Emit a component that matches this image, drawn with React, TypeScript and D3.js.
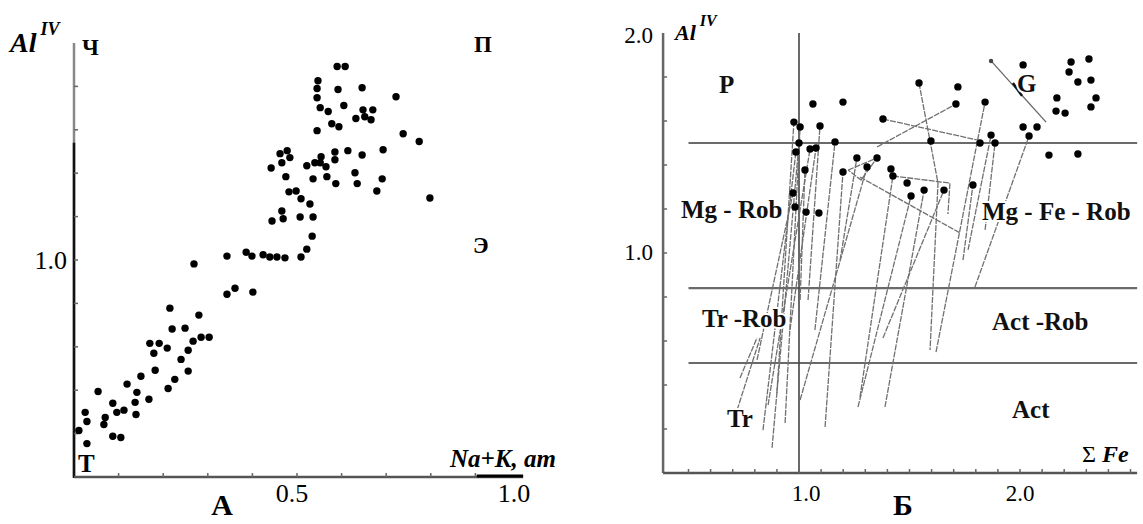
import * as d3 from "d3";

const serif = "'Liberation Serif', 'Times New Roman', serif";

// Panel А: Na+K (at.) vs Al IV
const naK = [
  0.59, 0.608, 0.547, 0.545, 0.545, 0.592, 0.646, 0.722, 0.552, 0.57, 0.605, 0.648, 0.67, 0.632, 0.652, 0.666,
  0.578, 0.594, 0.545, 0.738, 0.774, 0.462, 0.478, 0.484, 0.466, 0.442, 0.475, 0.554, 0.585, 0.614, 0.646, 0.693,
  0.585, 0.54, 0.552, 0.565, 0.522, 0.536, 0.567, 0.587, 0.63, 0.635, 0.691, 0.679, 0.798, 0.482, 0.498, 0.509,
  0.529, 0.466, 0.444, 0.469, 0.507, 0.536, 0.534, 0.522, 0.343, 0.386, 0.399, 0.424, 0.439, 0.455, 0.473, 0.509,
  0.269, 0.343, 0.361, 0.401, 0.215, 0.28, 0.22, 0.249, 0.17, 0.191, 0.209, 0.179, 0.267, 0.285, 0.303, 0.256,
  0.24, 0.182, 0.256, 0.226, 0.211, 0.15, 0.119, 0.141, 0.054, 0.087, 0.096, 0.112, 0.137, 0.139, 0.168, 0.07,
  0.067, 0.025, 0.029, 0.011, 0.029, 0.087, 0.105
];
const alA = [
  1.446, 1.446, 1.413, 1.395, 1.374, 1.393, 1.397, 1.376, 1.351, 1.342, 1.356, 1.346, 1.346, 1.326, 1.33, 1.323,
  1.314, 1.307, 1.298, 1.291, 1.273, 1.245, 1.252, 1.236, 1.224, 1.212, 1.192, 1.238, 1.249, 1.252, 1.242, 1.254,
  1.231, 1.224, 1.224, 1.215, 1.217, 1.187, 1.192, 1.176, 1.201, 1.176, 1.187, 1.159, 1.143, 1.157, 1.159, 1.141,
  1.129, 1.113, 1.09, 1.095, 1.099, 1.099, 1.055, 1.025, 1.009, 1.018, 1.009, 1.012, 1.007, 1.007, 1.005, 1.007,
  0.991, 0.921, 0.935, 0.926, 0.889, 0.873, 0.841, 0.843, 0.808, 0.808, 0.797, 0.785, 0.813, 0.822, 0.822, 0.792,
  0.771, 0.746, 0.744, 0.725, 0.704, 0.732, 0.714, 0.695, 0.697, 0.67, 0.649, 0.654, 0.672, 0.644, 0.679, 0.637,
  0.621, 0.649, 0.628, 0.607, 0.577, 0.594, 0.591
];

// Panel Б: ΣFe vs Al IV
const sumFe = [
  1.063, 1.199, 0.977, 1.005, 1.095, 1.0, 1.163, 0.986, 1.05, 1.077, 1.262, 1.353, 1.027, 1.199, 1.308, 0.973,
  0.982, 1.032, 1.09, 2.014, 2.231, 2.312, 2.222, 2.262, 2.321, 2.167, 2.344, 2.163, 2.204, 2.321, 2.014, 2.077,
  2.041, 2.131, 2.262, 1.543, 1.719, 1.71, 1.842, 1.38, 1.597, 1.869, 1.819, 1.887, 1.416, 1.425, 1.489, 1.507,
  1.566, 1.656, 1.787
];
const alB = [
  1.677, 1.686, 1.595, 1.573, 1.577, 1.5, 1.505, 1.459, 1.473, 1.477, 1.432, 1.432, 1.377, 1.368, 1.391, 1.273,
  1.209, 1.186, 1.182, 1.855, 1.868, 1.882, 1.823, 1.777, 1.786, 1.705, 1.705, 1.645, 1.636, 1.664, 1.573, 1.573,
  1.532, 1.445, 1.45, 1.773, 1.755, 1.677, 1.686, 1.609, 1.509, 1.536, 1.5, 1.5, 1.382, 1.35, 1.318, 1.259,
  1.286, 1.286, 1.309
];

// tie lines (ΣFe, Al IV)
const tieLines: [number, number][][] = [
  [[0.71, 0.255], [0.824, 0.614]],
  [[0.733, 0.432], [0.81, 0.614]],
  [[0.837, 0.195], [0.986, 1.459]],
  [[0.878, 0.114], [1.0, 1.5]],
  [[0.9, 0.364], [0.977, 1.595]],
  [[0.937, 0.227], [1.005, 1.573]],
  [[0.86, 0.309], [1.05, 1.473]],
  [[0.81, 0.514], [0.973, 1.273]],
  [[0.959, 0.65], [1.077, 1.477]],
  [[1.005, 0.786], [1.027, 1.377]],
  [[1.041, 0.786], [1.095, 1.577]],
  [[1.118, 0.209], [1.199, 1.368]],
  [[1.005, 0.332], [1.308, 1.391]],
  [[1.072, 0.65], [1.163, 1.505]],
  [[1.186, 0.968], [1.262, 1.432]],
  [[1.38, 0.614], [1.656, 1.286]],
  [[1.276, 0.345], [1.425, 1.35]],
  [[1.267, 0.3], [1.507, 1.259]],
  [[1.389, 0.3], [1.566, 1.286]],
  [[1.543, 1.773], [1.629, 1.318], [1.593, 0.559]],
  [[1.62, 0.55], [1.842, 1.686]],
  [[1.765, 1.014], [1.869, 1.536]],
  [[1.796, 0.845], [2.041, 1.532]],
  [[1.742, 0.968], [1.787, 1.309]],
  [[1.842, 1.105], [1.887, 1.5]],
  [[1.38, 1.609], [1.805, 1.514]],
  [[1.353, 1.482], [1.71, 1.677]],
  [[1.276, 1.345], [1.729, 1.091]],
  [[1.425, 1.35], [1.683, 1.318], [1.674, 1.177]],
  [[1.222, 1.377], [1.353, 1.432], [1.281, 1.332], [1.222, 1.377]]
];
const gLine: [number, number][] = [[1.869, 1.873], [2.118, 1.595]];
const gMark: [number, number][] = [[1.968, 1.773], [2.009, 1.714]];

const fieldBounds = [1.5, 0.84, 0.5];
const feDivide = 1.0;

const regionLabels = [
  { text: "P", x: 719, y: 93 },
  { text: "G", x: 1017, y: 92 },
  { text: "Mg - Rob", x: 681, y: 218 },
  { text: "Mg - Fe - Rob", x: 982, y: 220 },
  { text: "Tr -Rob", x: 702, y: 327 },
  { text: "Act -Rob", x: 992, y: 330 },
  { text: "Tr", x: 727, y: 427 },
  { text: "Act", x: 1012, y: 418 }
];

export default function App() {
  const xA = d3.scaleLinear().domain([0, 1]).range([74, 520]);
  const yA = d3.scaleLinear().domain([0.5, 1.5]).range([477, 43]);
  const xB = d3.scaleLinear().domain([1, 2]).range([799, 1020]);
  const yB = d3.scaleLinear().domain([0, 2]).range([473, 33]);

  const lineB = d3
    .line<[number, number]>()
    .x((d) => xB(d[0]))
    .y((d) => yB(d[1]));

  const xTicksA = d3.range(1, 10).map((i) => i / 10);
  const yTicksA = d3.range(6, 15).map((i) => i / 10);
  const xTicksB = d3.range(5, 26).map((i) => i / 10);
  const yTicksB = d3.range(1, 10).map((i) => i / 5);

  const xB0 = 0.385;
  const xB1 = 2.53;

  return (
    <div style={{ position: "absolute", left: 0, top: 0 }}>
      <svg width={1143} height={524} style={{ display: "block", background: "#fff" }} fontFamily={serif}>
        {/* ---------- panel А ---------- */}
        <line x1={xA(0)} x2={xA(0)} y1={yA(1.5)} y2={yA(0.5)} stroke="#888" strokeWidth={2.5} />
        <line x1={xA(0)} x2={xA(0)} y1={yA(1.27)} y2={yA(0.5) + 1} stroke="#111" strokeWidth={2.5} />
        <line x1={xA(0)} x2={xA(1.007)} y1={yA(0.5)} y2={yA(0.5)} stroke="#555" strokeWidth={2.5} />
        <line x1={xA(0.903)} x2={xA(1.007)} y1={yA(0.5) - 1} y2={yA(0.5) - 1} stroke="#000" strokeWidth={3} />
        {yTicksA.map((t) => (
          <line key={t} x1={xA(0)} x2={xA(0) + 4} y1={yA(t)} y2={yA(t)} stroke="#666" strokeWidth={1.5} />
        ))}
        {xTicksA.map((t) => (
          <line key={t} x1={xA(t)} x2={xA(t)} y1={yA(0.5)} y2={yA(0.5) - 4} stroke="#666" strokeWidth={1.5} />
        ))}
        {naK.map((x, i) => (
          <circle key={i} cx={xA(x)} cy={yA(alA[i])} r={3.7} fill="#000" />
        ))}
        <text x={xA(0) - 7} y={yA(1.0) + 9} textAnchor="end" fontSize={26}>1.0</text>
        <text x={xA(0.5) - 5} y={502} textAnchor="middle" fontSize={26}>0.5</text>
        <text x={xA(1.0) - 6} y={502} textAnchor="middle" fontSize={26}>1.0</text>
        <text x={10} y={52} fontSize={28} fontWeight="bold" fontStyle="italic">
          Al
          <tspan dx={4} dy={-17} fontSize={18}>IV</tspan>
        </text>
        <text x={82} y={55} fontSize={23} fontWeight="bold">Ч</text>
        <text x={474} y={52} fontSize={23} fontWeight="bold">П</text>
        <text x={473} y={253} fontSize={23} fontWeight="bold">Э</text>
        <text x={78} y={472} fontSize={25} fontWeight="bold">Т</text>
        <text x={450} y={467} fontSize={25} fontWeight="bold" fontStyle="italic">Na+K, ат</text>
        <text x={222} y={515} textAnchor="middle" fontSize={30} fontWeight="bold">А</text>

        {/* ---------- panel Б ---------- */}
        {fieldBounds.map((b) => (
          <line key={b} x1={xB(0.5)} x2={xB(xB1)} y1={yB(b)} y2={yB(b)} stroke="#6a6a6a" strokeWidth={2.2} />
        ))}
        <line x1={xB(feDivide)} x2={xB(feDivide)} y1={yB(2.0)} y2={yB(0)} stroke="#444" strokeWidth={1.6} />
        {tieLines.map((seg, i) => (
          <path
            key={i}
            d={lineB(seg) ?? undefined}
            fill="none"
            stroke="#707070"
            strokeWidth={1.3}
            strokeDasharray="6 1.2"
          />
        ))}
        <path d={lineB(gLine) ?? undefined} fill="none" stroke="#666" strokeWidth={1.3} />
        <path d={lineB(gMark) ?? undefined} fill="none" stroke="#111" strokeWidth={2.4} />
        <circle cx={xB(gLine[0][0])} cy={yB(gLine[0][1])} r={2.2} fill="#444" />
        {sumFe.map((x, i) => (
          <circle key={i} cx={xB(x)} cy={yB(alB[i])} r={3.7} fill="#000" />
        ))}
        <line x1={xB(xB0)} x2={xB(xB0)} y1={yB(2.0)} y2={yB(0)} stroke="#666" strokeWidth={2.5} />
        <line x1={xB(xB0)} x2={xB(xB1)} y1={yB(0)} y2={yB(0)} stroke="#555" strokeWidth={2.5} />
        {yTicksB.map((t) => (
          <line key={t} x1={xB(xB0)} x2={xB(xB0) + 4} y1={yB(t)} y2={yB(t)} stroke="#666" strokeWidth={1.5} />
        ))}
        {xTicksB.map((t) => (
          <line key={t} x1={xB(t)} x2={xB(t)} y1={yB(0)} y2={yB(0) - 4} stroke="#666" strokeWidth={1.5} />
        ))}
        <text x={xB(xB0) - 10} y={yB(2.0) + 10} textAnchor="end" fontSize={23}>2.0</text>
        <text x={xB(xB0) - 10} y={yB(1.0) + 7} textAnchor="end" fontSize={23}>1.0</text>
        <text x={xB(1.0) + 7} y={501} textAnchor="middle" fontSize={23}>1.0</text>
        <text x={xB(2.0)} y={501} textAnchor="middle" fontSize={23}>2.0</text>
        <text x={675} y={40} fontSize={22} fontWeight="bold" fontStyle="italic">
          Al
          <tspan dx={4} dy={-14} fontSize={16}>IV</tspan>
        </text>
        <text x={1082} y={462} fontSize={24}>
          Σ <tspan fontWeight="bold" fontStyle="italic">Fe</tspan>
        </text>
        {regionLabels.map((l) => (
          <text
            key={l.text}
            x={l.x}
            y={l.y}
            fontSize={25}
            fontWeight="bold"
            fill="#111"
            stroke="#fff"
            strokeWidth={4}
            paintOrder="stroke"
          >
            {l.text}
          </text>
        ))}
        <text x={903} y={515} textAnchor="middle" fontSize={30} fontWeight="bold">Б</text>
      </svg>
    </div>
  );
}
